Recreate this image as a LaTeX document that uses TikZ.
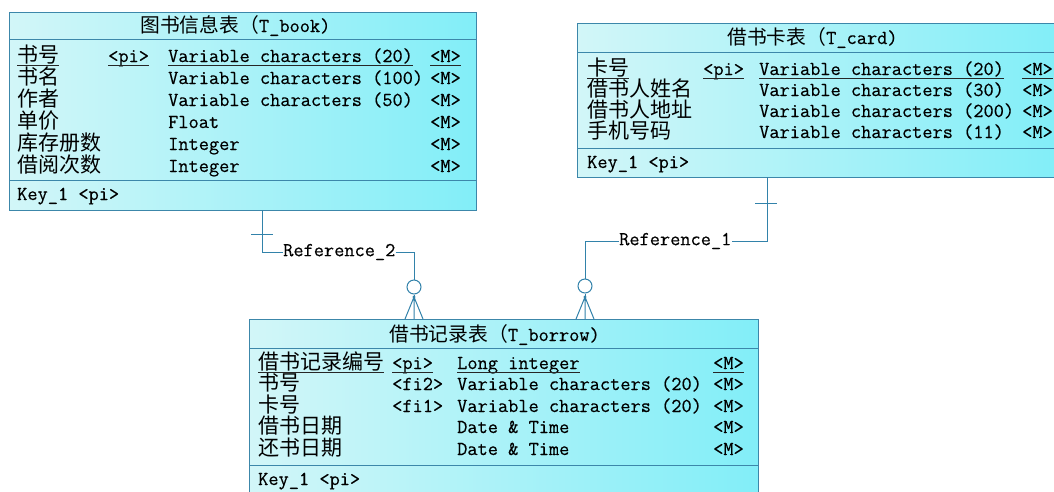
\documentclass[tikz,border=0pt]{standalone}
\usepackage{fontspec}
\newfontfamily\cjk{Noto Sans CJK SC}
\setmonofont[FakeBold=0.4]{Latin Modern Mono}
\definecolor{bord}{RGB}{60,135,170}
\definecolor{lnk}{RGB}{50,130,170}
\definecolor{fillL}{RGB}{210,246,248}
\definecolor{fillR}{RGB}{130,238,248}
\begin{document}
\begin{tikzpicture}[x=1pt,y=-1pt,
  tbl/.style={draw=bord, line width=1pt, left color=fillL, right color=fillR, rectangle, inner sep=0, anchor=north west},
  sep/.style={draw=bord, line width=1pt},
  cn/.style={font=\cjk\fontsize{21}{21}\selectfont, inner sep=0, anchor=base west},
  mn/.style={font=\ttfamily\fontsize{19.8}{20}\selectfont, inner sep=0, anchor=base west},
  ttl/.style={font=\fontsize{19.8}{20}\selectfont, inner sep=0, anchor=base west},
  ul/.style={line width=0.9pt, black!85},
  conn/.style={draw=lnk, line width=1pt},
  crow/.style={circle, draw=lnk, line width=1pt, fill=white, minimum size=14, inner sep=0}]
\useasboundingbox (0,0) rectangle (1054,491);
\fill[white] (0,0) rectangle (1054,491);

% ---------- T_book ----------
\node[tbl, minimum width=467, minimum height=198] (book) at (9,12) {};
\draw[sep] (9,39) -- (476,39);
\draw[sep] (9,180) -- (476,180);
\node[ttl] (bt) at (140,32) {{\cjk 图书信息表（}{\ttfamily T\_book)}};
\node[cn] (bn1) at (17,62) {书号};
\node[mn] (bp1) at (108,62) {<pi>};
\node[mn] (bt1) at (168,62) {Variable characters (20)};
\node[mn] (bm1) at (430,62) {<M>};
\node[cn] (bn2) at (17,84) {书名};
\node[mn] (bt2) at (168,84) {Variable characters (100)};
\node[mn] (bm2) at (430,84) {<M>};
\node[cn] (bn3) at (17,106) {作者};
\node[mn] (bt3) at (168,106) {Variable characters (50)};
\node[mn] (bm3) at (430,106) {<M>};
\node[cn] (bn4) at (17,128) {单价};
\node[mn] (bt4) at (168,128) {Float};
\node[mn] (bm4) at (430,128) {<M>};
\node[cn] (bn5) at (17,150) {库存册数};
\node[mn] (bt5) at (168,150) {Integer};
\node[mn] (bm5) at (430,150) {<M>};
\node[cn] (bn6) at (17,172) {借阅次数};
\node[mn] (bt6) at (168,172) {Integer};
\node[mn] (bm6) at (430,172) {<M>};
\node[mn] (bk) at (17,200) {Key\_1 <pi>};
\foreach \n in {bn1,bp1,bt1,bm1}
  \draw[ul] ([yshift=-3pt]\n.base west) -- ([yshift=-3pt]\n.base east);

% ---------- T_card ----------
\node[tbl, minimum width=480, minimum height=154] (card) at (577,23) {};
\draw[sep] (577,52) -- (1057,52);
\draw[sep] (577,148) -- (1057,148);
\node[ttl] (ct) at (727,44) {{\cjk 借书卡表（}{\ttfamily T\_card)}};
\node[cn] (cn1) at (587,75) {卡号};
\node[mn] (cp1) at (703,75) {<pi>};
\node[mn] (ct1) at (759,75) {Variable characters (20)};
\node[mn] (cm1) at (1022,75) {<M>};
\node[cn] (cn2) at (587,96) {借书人姓名};
\node[mn] (ct2) at (759,96) {Variable characters (30)};
\node[mn] (cm2) at (1022,96) {<M>};
\node[cn] (cn3) at (587,117) {借书人地址};
\node[mn] (ct3) at (759,117) {Variable characters (200)};
\node[mn] (cm3) at (1022,117) {<M>};
\node[cn] (cn4) at (587,138) {手机号码};
\node[mn] (ct4) at (759,138) {Variable characters (11)};
\node[mn] (cm4) at (1022,138) {<M>};
\node[mn] (ck) at (587,168) {Key\_1 <pi>};
\foreach \n in {cn1,cp1,ct1,cm1}
  \draw[ul] ([yshift=-3pt]\n.base west) -- ([yshift=-3pt]\n.base east);

% ---------- T_borrow ----------
\node[tbl, minimum width=509, minimum height=190] (borrow) at (249,319) {};
\draw[sep] (249,348) -- (758,348);
\draw[sep] (249,465) -- (758,465);
\node[ttl] (rt) at (389,341) {{\cjk 借书记录表（}{\ttfamily T\_borrow)}};
\node[cn] (rn1) at (258,369) {借书记录编号};
\node[mn] (rp1) at (392,369) {<pi>};
\node[mn] (rt1) at (457,369) {Long integer};
\node[mn] (rm1) at (713,369) {<M>};
\node[cn] (rn2) at (258,390) {书号};
\node[mn] (rp2) at (392,390) {<fi2>};
\node[mn] (rt2) at (457,390) {Variable characters (20)};
\node[mn] (rm2) at (713,390) {<M>};
\node[cn] (rn3) at (258,412) {卡号};
\node[mn] (rp3) at (392,412) {<fi1>};
\node[mn] (rt3) at (457,412) {Variable characters (20)};
\node[mn] (rm3) at (713,412) {<M>};
\node[cn] (rn4) at (258,433) {借书日期};
\node[mn] (rt4) at (457,433) {Date \& Time};
\node[mn] (rm4) at (713,433) {<M>};
\node[cn] (rn5) at (258,455) {还书日期};
\node[mn] (rt5) at (457,455) {Date \& Time};
\node[mn] (rm5) at (713,455) {<M>};
\node[mn] (rk) at (258,485) {Key\_1 <pi>};
\foreach \n in {rn1,rp1,rt1,rm1}
  \draw[ul] ([yshift=-3pt]\n.base west) -- ([yshift=-3pt]\n.base east);

% ---------- Reference_2 ----------
\coordinate (r2s) at (262,210);
\node[mn, anchor=west] (ref2) at (283,252) {Reference\_2};
\node[crow] (c2) at (414,287) {};
\coordinate (f2) at (414,297);
\coordinate (f2a) at (405,319);
\coordinate (f2b) at (414,319);
\coordinate (f2c) at (423,319);
\coordinate (t2a) at (251,234);
\coordinate (t2b) at (273,234);
\draw[conn] (r2s) |- (ref2.west);
\draw[conn] (ref2.east) -| (c2.north);
\draw[conn] (t2a) -- (t2b);
\draw[conn] (c2.south) -- (f2);
\draw[conn] (f2) -- (f2a) (f2) -- (f2b) (f2) -- (f2c);
\fill[lnk] (f2) circle (1.6);

% ---------- Reference_1 ----------
\coordinate (r1s) at (767,177);
\node[mn, anchor=west] (ref1) at (619,241) {Reference\_1};
\node[crow] (c1) at (585,286) {};
\coordinate (f1) at (585,297);
\coordinate (f1a) at (576,319);
\coordinate (f1b) at (585,319);
\coordinate (f1c) at (594,319);
\coordinate (t1a) at (755,203);
\coordinate (t1b) at (777,203);
\draw[conn] (r1s) |- (ref1.east);
\draw[conn] (ref1.west) -| (c1.north);
\draw[conn] (t1a) -- (t1b);
\draw[conn] (c1.south) -- (f1);
\draw[conn] (f1) -- (f1a) (f1) -- (f1b) (f1) -- (f1c);
\fill[lnk] (f1) circle (1.6);
\end{tikzpicture}
\end{document}
